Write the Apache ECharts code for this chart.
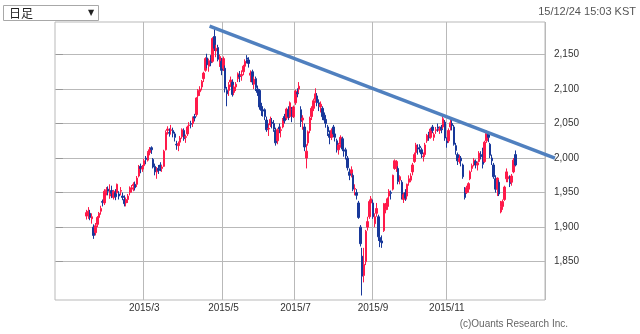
<!DOCTYPE html>
<html><head><meta charset="utf-8">
<script src="https://cdn.jsdelivr.net/npm/echarts@6/dist/echarts.min.js"></script>
<style>html,body{margin:0;padding:0;background:#fff}#chart{width:640px;height:334px}</style>
</head><body><div id="chart"></div>
<script>
// Daily candles, 2015 — each row: [day, open, close, low, high]
const jan = [
  [12,1916,1921,1911,1925],[13,1919,1923,1912,1929],[14,1920,1914,1910,1925],[15,1912,1915,1905,1920],
  [16,1900,1888,1883,1904],[19,1892,1902,1888,1906],[20,1904,1914,1900,1916],[21,1914,1920,1907,1922],
  [22,1923,1927,1918,1931],[23,1937,1936,1930,1940],[26,1935,1952,1932,1955],[27,1953,1954,1946,1958],
  [28,1955,1952,1946,1959],[29,1945,1949,1941,1962],[30,1953,1949,1942,1960]
];
const feb = [
  [2,1943,1952,1940,1954],[3,1950,1944,1939,1955],[4,1950,1962,1948,1963],[5,1948,1945,1940,1952],
  [6,1952,1953,1946,1958],[9,1945,1943,1939,1950],[10,1940,1934,1930,1946],[11,1935,1940,1930,1943],
  [12,1940,1945,1935,1948],[13,1950,1955,1946,1959],[16,1955,1957,1950,1961],[17,1960,1962,1952,1965],
  [23,1962,1957,1953,1966],[24,1962,1971,1958,1974],[25,1974,1987,1972,1990],[26,1988,1985,1978,1992],
  [27,1984,1986,1980,1990]
];
const mar = [
  [2,1989,1996,1985,1999],[3,2000,1998,1991,2003],[4,1997,2008,1995,2010],[5,2008,2012,2004,2016],
  [6,2015,2012,2006,2017],[9,1998,1987,1985,2000],[10,1988,1980,1975,1992],[11,1980,1985,1970,1987],
  [12,1985,1982,1977,1990],[13,1990,1986,1981,1994],[16,1985,1987,1980,1990],[17,1988,2010,1987,2012],
  [18,2012,2037,2011,2040],[19,2040,2042,2034,2046],[20,2037,2036,2031,2043],[23,2040,2041,2034,2048],
  [24,2040,2036,2030,2044],[25,2035,2030,2024,2038],[26,2020,2019,2012,2025],[27,2018,2021,2010,2024],
  [30,2023,2029,2019,2032],[31,2031,2041,2028,2043]
];
const apr = [
  [1,2040,2028,2025,2043],[2,2030,2031,2022,2034],[3,2035,2045,2032,2047],[6,2047,2048,2040,2052],
  [7,2050,2049,2043,2054],[8,2050,2059,2045,2060],[9,2060,2058,2053,2064],[10,2063,2087,2060,2088],
  [13,2090,2098,2086,2100],[14,2096,2100,2090,2104],[15,2103,2111,2098,2113],[16,2115,2123,2110,2125],
  [17,2127,2144,2125,2146],[20,2145,2135,2130,2151],[21,2133,2141,2125,2144],[22,2145,2138,2133,2149],
  [23,2140,2173,2138,2175],[24,2176,2159,2155,2189],[27,2155,2159,2146,2164],[28,2160,2143,2140,2164],
  [29,2138,2147,2132,2150],[30,2140,2127,2120,2145]
];
const may = [
  [4,2130,2144,2126,2147],[6,2130,2101,2095,2134],[7,2098,2093,2075,2103],[8,2098,2106,2090,2110],
  [11,2110,2113,2103,2118],[12,2110,2092,2089,2114],[13,2095,2103,2091,2106],[14,2103,2107,2097,2110],
  [15,2115,2122,2110,2124],[18,2120,2118,2110,2126],[19,2119,2121,2112,2127],[20,2125,2133,2120,2135],
  [21,2133,2140,2127,2143],[22,2145,2143,2137,2149],[26,2142,2137,2131,2146],[27,2120,2123,2110,2127],
  [28,2125,2110,2106,2128],[29,2107,2114,2100,2118]
];
const jun = [
  [1,2115,2102,2097,2118],[2,2100,2095,2090,2105],[3,2098,2074,2070,2100],[4,2074,2069,2061,2080],
  [5,2070,2068,2060,2075],[8,2070,2060,2055,2072],[9,2055,2041,2038,2060],[10,2042,2043,2032,2050],
  [11,2048,2056,2045,2060],[12,2052,2050,2043,2058],[15,2050,2042,2038,2055],[16,2040,2022,2018,2044],
  [17,2025,2041,2020,2043],[18,2045,2042,2036,2050],[19,2040,2041,2030,2045],[22,2045,2056,2043,2058],
  [23,2060,2054,2050,2064],[24,2058,2071,2055,2073],[25,2070,2060,2055,2075],[26,2060,2080,2058,2082],
  [29,2070,2060,2052,2074],[30,2060,2074,2058,2076]
];
const jul = [
  [1,2080,2097,2077,2099],[2,2095,2093,2088,2101],[3,2100,2104,2094,2110],[6,2070,2053,2045,2075],
  [7,2055,2058,2041,2062],[8,2045,2016,2010,2050],[9,2000,2010,1985,2020],[10,2022,2038,2018,2040],
  [13,2040,2058,2036,2060],[14,2060,2072,2055,2075],[15,2072,2083,2068,2086],[16,2085,2093,2080,2101],
  [17,2090,2080,2075,2094],[20,2080,2075,2068,2085],[21,2074,2078,2066,2082],[22,2072,2060,2055,2075],
  [23,2062,2055,2050,2066],[24,2056,2050,2044,2060],[27,2045,2038,2032,2048],[28,2035,2030,2020,2040],
  [29,2030,2040,2026,2043],[30,2045,2035,2030,2048],[31,2035,2030,2024,2040]
];
const aug = [
  [3,2025,2012,2008,2028],[4,2012,2019,2005,2022],[5,2020,2030,2015,2033],[6,2028,2013,2010,2031],
  [7,2012,2010,2002,2016],[10,2012,2003,1998,2015],[11,2000,1986,1982,2003],[12,1980,1975,1968,1985],
  [13,1978,1983,1972,1988],[17,1975,1955,1952,1978],[18,1955,1956,1946,1962],[19,1950,1946,1940,1955],
  [20,1935,1914,1912,1938],[21,1900,1876,1872,1903],[24,1858,1829,1801,1870],[25,1830,1846,1820,1870],
  [26,1850,1894,1845,1896],[27,1900,1908,1895,1915],[28,1915,1937,1912,1940],[31,1935,1941,1930,1945]
];
const sep = [
  [1,1935,1915,1912,1940],[2,1905,1915,1900,1920],[3,1920,1927,1915,1935],[4,1915,1886,1880,1918],
  [7,1885,1878,1871,1890],[8,1880,1877,1870,1888],[9,1895,1934,1893,1935],[10,1925,1930,1920,1935],
  [11,1930,1941,1925,1943],[14,1945,1952,1940,1955],[15,1950,1949,1940,1953],[16,1955,1975,1953,1976],
  [17,1985,1996,1983,1998],[18,1985,1995,1980,1997],[21,1985,1966,1962,1988],[22,1968,1973,1962,1975],
  [23,1965,1945,1940,1968],[24,1940,1947,1935,1950],[25,1950,1942,1938,1955],[30,1945,1962,1940,1963]
];
const oct = [
  [1,1965,1970,1960,1975],[2,1968,1974,1965,1978],[5,1980,1990,1975,1993],[6,1995,2005,1993,2008],
  [7,2008,2019,2005,2022],[8,2015,2013,2005,2020],[12,2017,2015,2008,2020],[13,2012,2006,2000,2015],
  [14,2002,2003,1995,2008],[15,2005,2019,2003,2022],[16,2025,2033,2022,2035],[19,2035,2029,2025,2038],
  [20,2030,2042,2028,2044],[21,2045,2040,2036,2048],[22,2030,2034,2025,2037],[23,2040,2041,2035,2045],
  [26,2045,2043,2038,2050],[27,2040,2042,2035,2046],[28,2045,2041,2036,2048],[29,2045,2057,2042,2063],
  [30,2052,2029,2025,2055]
];
const nov = [
  [2,2025,2022,2015,2030],[3,2025,2040,2022,2043],[4,2045,2051,2040,2056],[5,2050,2047,2040,2055],
  [6,2045,2020,2018,2048],[9,2018,2011,2005,2022],[10,2005,1996,1990,2008],[11,1995,2000,1992,2005],
  [12,2000,1996,1988,2003],[13,1990,1973,1970,1992],[16,1955,1943,1940,1958],[17,1950,1957,1948,1960],
  [18,1955,1963,1950,1965],[19,1970,1980,1968,1982],[20,1985,1989,1980,1992],[23,1990,1997,1988,2000],
  [24,1995,1990,1985,1998],[25,1990,1993,1982,1995],[26,1995,2007,1994,2010],[27,2005,2002,1998,2010],
  [30,2010,1991,1985,2015]
];
const dec = [
  [1,1995,2023,1993,2025],[2,2025,2036,2022,2040],[3,2035,2030,2023,2038],[4,2020,2004,2000,2022],
  [7,2000,1996,1990,2005],[8,1990,1973,1970,1993],[9,1970,1955,1950,1975],[10,1955,1971,1945,1972],
  [11,1965,1948,1945,1968],[14,1922,1930,1920,1938],[15,1930,1937,1925,1940],[16,1940,1958,1938,1960],
  [17,1970,1980,1965,1985],[18,1970,1973,1965,1980],[21,1970,1963,1958,1975],[22,1965,1974,1960,1977],
  [23,1980,1997,1978,2000],[24,2005,1990,1988,2011]
];
const months = [jan, feb, mar, apr, may, jun, jul, aug, sep, oct, nov, dec];

// Empty trading slots shown before the first and after the last candle
const padBefore = 17;
const padAfter = 16;

// Price axis
const yMin = 1794.5;
const yMax = 2197;
const yTicks = [1850, 1900, 1950, 2000, 2050, 2100, 2150];

// Month boundaries marked on the time axis
const monthTicks = ['2015/03/02', '2015/05/04', '2015/07/01', '2015/09/01', '2015/11/02'];
const monthTickLabels = ['2015/3', '2015/5', '2015/7', '2015/9', '2015/11'];

// Resistance line in slot units: [slot, price]; it runs on past the plot's right edge
const trendLine = [[85.3, 2191], [277, 2000]];

// ---- build category list and candle rows ----
const categories = [];
const candles = [];
for (let i = 0; i < padBefore; i++) categories.push('pre' + i);
months.forEach((rows, m) => {
  rows.forEach(r => {
    const name = '2015/' + String(m + 1).padStart(2, '0') + '/' + String(r[0]).padStart(2, '0');
    candles.push([categories.length, r[1], r[2], r[3], r[4]]);
    categories.push(name);
  });
});
for (let i = 0; i < padAfter; i++) categories.push('post' + i);
const slotCount = categories.length;
const tickLabelOf = {};
monthTicks.forEach((d, i) => { tickLabelOf[d] = monthTickLabels[i]; });

const gridColor = '#b9b9b9';
const chart = echarts.init(document.getElementById('chart'), null, { renderer: 'canvas' });
chart.setOption({
  animation: false,
  backgroundColor: '#ffffff',
  grid: { left: 55, right: 95, top: 22, bottom: 34, show: true, borderColor: gridColor, borderWidth: 1 },
  xAxis: [
    {
      type: 'category',
      data: categories,
      boundaryGap: true,
      axisLine: { show: false },
      axisTick: { show: false },
      axisLabel: {
        interval: (idx, val) => tickLabelOf[val] !== undefined,
        formatter: val => tickLabelOf[val] || '',
        margin: 3,
        fontSize: 10,
        color: '#333',
        fontFamily: 'Liberation Sans, Arial, sans-serif'
      },
      splitLine: {
        show: true,
        interval: (idx, val) => tickLabelOf[val] !== undefined,
        lineStyle: { color: gridColor, width: 1 }
      }
    },
    {
      type: 'value',
      min: -0.5,
      max: slotCount - 0.5,
      show: false,
      splitLine: { show: false }
    }
  ],
  yAxis: [{
    type: 'value',
    position: 'right',
    min: yMin,
    max: yMax,
    scale: true,
    axisLine: { show: false },
    axisTick: { show: true, length: 7, customValues: yTicks, lineStyle: { color: '#999' } },
    axisLabel: {
      customValues: yTicks,
      margin: 9,
      fontSize: 10,
      color: '#333',
      fontFamily: 'Liberation Sans, Arial, sans-serif',
      formatter: v => v.toLocaleString('en-US')
    },
    splitLine: { show: true, lineStyle: { color: gridColor, width: 1 } }
  }],
  series: [
    {
      type: 'candlestick',
      xAxisIndex: 0,
      yAxisIndex: 0,
      data: candles,
      encode: { x: 0, y: [1, 2, 3, 4] },
      barWidth: 2,
      itemStyle: {
        color: '#ff1a4a', borderColor: '#ff1a4a',
        color0: '#18389a', borderColor0: '#18389a',
        borderWidth: 1
      }
    }
  ],
  graphic: [
    { type: 'rect', shape: { x: 3.5, y: 5.5, width: 95, height: 15 }, style: { fill: '#fff', stroke: '#a8a8a8', lineWidth: 1 } },
    { type: 'text', x: 9, y: 13, style: { text: '日足', font: '12px "Noto Sans CJK JP"', fill: '#222', verticalAlign: 'middle' } },
    { type: 'text', x: 88, y: 13, style: { text: '▼', font: '8px "DejaVu Sans"', fill: '#222', verticalAlign: 'middle' } },
    { type: 'text', x: 636, y: 12, style: { text: '15/12/24 15:03 KST', font: '11px "Liberation Sans", Arial', fill: '#555', align: 'right', verticalAlign: 'middle' } },
    { type: 'text', x: 568, y: 324, style: { text: '(c)Ouants Research Inc.', font: '10px "Liberation Sans", Arial', fill: '#666', align: 'right', verticalAlign: 'middle' } }
  ]
});

// The resistance line is placed through the axes' own scales so it can overhang the plot edge
const p0 = chart.convertToPixel({ xAxisIndex: 1, yAxisIndex: 0 }, trendLine[0]);
const p1 = chart.convertToPixel({ xAxisIndex: 1, yAxisIndex: 0 }, trendLine[1]);
chart.setOption({
  graphic: [{
    id: 'trend',
    type: 'line',
    z: 50,
    shape: { x1: p0[0], y1: p0[1], x2: p1[0], y2: p1[1] },
    style: { stroke: '#5080bf', lineWidth: 3.5, lineCap: 'butt' }
  }]
});
</script>
</body></html>
